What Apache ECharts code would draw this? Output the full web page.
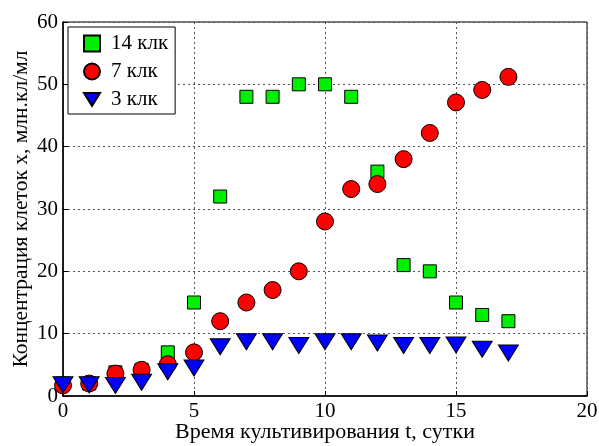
<!DOCTYPE html>
<html>
<head>
<meta charset="utf-8">
<script src="https://cdn.jsdelivr.net/npm/echarts@6/dist/echarts.min.js"></script>
<style>
  html, body { margin: 0; padding: 0; background: #fff; }
  #chart { width: 599px; height: 446px; }
</style>
</head>
<body>
<div id="chart"></div>
<script>
// Cultivation time, days
const days = [0, 1, 2, 3, 4, 5, 6, 7, 8, 9, 10, 11, 12, 13, 14, 15, 16, 17];
// Cell concentration, mln cells/ml, for each light intensity
const lux14 = [2, 2, 3.8, 4.2, 7, 15, 32, 48, 48, 50, 50, 48, 36, 21, 20, 15, 13, 12];
const lux7  = [1.7, 2, 3.6, 4.2, 5.1, 7, 12, 15, 17, 20, 28, 33.2, 34, 38, 42.2, 47.1, 49.1, 51.2];
const lux3  = [1.8, 1.8, 1.7, 2.2, 3.9, 4.5, 7.9, 8.7, 8.7, 8.1, 8.7, 8.7, 8.5, 8.1, 8.1, 8.2, 7.5, 6.9];

const xTicks = { min: 0, max: 20, interval: 5 };
const yTicks = { min: 0, max: 60, interval: 10 };

const seriesNames = ['14 клк', '7 клк', '3 клк'];

const pairs = vals => days.map((d, i) => [d, vals[i]]);

const font = 'Liberation Serif, Times New Roman, serif';
const gridLine = { show: true, lineStyle: { color: '#555', type: [2, 3], width: 1 } };
// downward-pointing triangle for the legend entry
const downTriangle = 'path://M0,0 L20,0 L10,16 Z';

const chart = echarts.init(document.getElementById('chart'), null, { renderer: 'canvas' });
chart.setOption({
  animation: false,
  backgroundColor: '#fff',
  grid: {
    left: 63, right: 12, top: 22, bottom: 50,
    containLabel: false, outerBoundsMode: 'none',
    show: true, borderColor: '#000', borderWidth: 1
  },
  xAxis: {
    type: 'value', min: xTicks.min, max: xTicks.max, interval: xTicks.interval,
    name: 'Время культивирования t, сутки', nameLocation: 'middle', nameGap: 25,
    nameMoveOverlap: false,
    nameTextStyle: { fontFamily: font, fontSize: 22, color: '#000' },
    axisLine: { lineStyle: { color: '#000', width: 1.5 } },
    axisTick: { inside: true, length: 5, lineStyle: { color: '#000' } },
    axisLabel: { fontFamily: font, fontSize: 21, color: '#000', margin: 5 },
    splitLine: gridLine
  },
  yAxis: {
    type: 'value', min: yTicks.min, max: yTicks.max, interval: yTicks.interval,
    name: 'Концентрация клеток x, млн.кл/мл', nameLocation: 'middle', nameGap: 31,
    nameMoveOverlap: false,
    nameTextStyle: { fontFamily: font, fontSize: 21.5, color: '#000' },
    axisLine: { lineStyle: { color: '#000', width: 1.5 } },
    axisTick: { inside: true, length: 5, lineStyle: { color: '#000' } },
    axisLabel: { fontFamily: font, fontSize: 21, color: '#000', margin: 5 },
    splitLine: gridLine
  },
  legend: {
    orient: 'vertical', left: 68, top: 27,
    backgroundColor: '#fff', borderColor: '#000', borderWidth: 1,
    padding: [6, 7, 4, 15], itemGap: 7, itemWidth: 16, itemHeight: 16,
    textStyle: { fontFamily: font, fontSize: 21, color: '#000', padding: [0, 0, 0, 6] },
    data: [
      { name: seriesNames[0] },
      { name: seriesNames[1] },
      { name: seriesNames[2], icon: downTriangle }
    ]
  },
  series: [
    {
      name: seriesNames[0], type: 'scatter', data: pairs(lux14), z: 2,
      symbol: 'rect', symbolSize: 13,
      itemStyle: { color: '#00ee00', borderColor: '#000', borderWidth: 1, opacity: 1 }
    },
    {
      name: seriesNames[1], type: 'scatter', data: pairs(lux7), z: 3,
      symbol: 'circle', symbolSize: 17,
      itemStyle: { color: '#ff0000', borderColor: '#000', borderWidth: 1, opacity: 1 }
    },
    {
      name: seriesNames[2], type: 'scatter', data: pairs(lux3), z: 4,
      symbol: 'triangle', symbolSize: [20, 16], symbolRotate: 180,
      itemStyle: { color: '#0000ff', borderColor: '#000', borderWidth: 1, opacity: 1 }
    }
  ]
});
</script>
</body>
</html>
